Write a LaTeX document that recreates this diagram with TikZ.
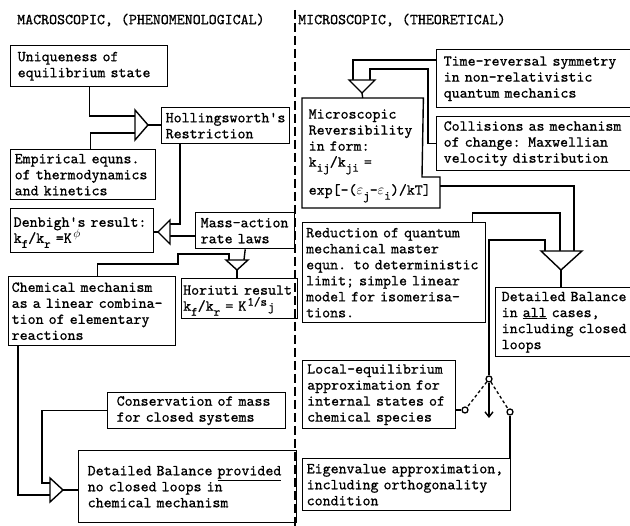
\documentclass[tikz,border=0pt]{standalone}
\usepackage{fontspec}
\setmonofont{lmmono10-regular.otf}[FakeBold=0.8]
\usetikzlibrary{arrows.meta}
\newcommand{\sbx}[1]{\raisebox{-5pt}[0pt][0pt]{\fontsize{12.5pt}{12.5pt}\selectfont #1}}
\newcommand{\spx}[1]{\raisebox{5pt}[0pt][0pt]{\fontsize{12.5pt}{12.5pt}\selectfont #1}}
\begin{document}
\begin{tikzpicture}[x=1pt,y=-1pt,
  txt/.style={font=\ttfamily\fontsize{15.2pt}{16pt}\selectfont, inner sep=0pt},
  box/.style={draw, line width=1.4pt, anchor=north west, align=left, inner ysep=2pt, font=\ttfamily\fontsize{15.2pt}{16pt}\selectfont},
  conn/.style={line width=1.4pt},
  gate/.style={line width=1.4pt, fill=white, line join=miter},
  contact/.style={circle, draw, line width=1.3pt, fill=white, inner sep=0pt, minimum size=6pt},
  swdash/.style={line width=1.3pt, dash pattern=on 3pt off 2.5pt},
]
\clip (0,0) rectangle (630,526);
\fill[white] (0,0) rectangle (630,526);

% titles and divider
\node[txt, anchor=west] (tmac) at (17,20) {MACROSCOPIC, (PHENOMENOLOGICAL)};
\node[txt, anchor=west] (tmic) at (298,20) {MICROSCOPIC, (THEORETICAL)};
\draw[line width=1.3pt, dash pattern=on 9pt off 4pt] (295,10) -- (295,526);

% left column boxes
\node[box, minimum width=157pt, minimum height=41pt, text width=143pt, inner xsep=7pt] (uniq) at (10,45) {Uniqueness of\\equilibrium state};
\node[box, minimum width=128pt, minimum height=36pt, text width=120pt, inner xsep=4pt] (holl) at (161,107) {Hollingsworth's\\Restriction};
\node[box, minimum width=145pt, minimum height=50pt, text width=137pt, inner xsep=4pt] (emp) at (10,149) {Empirical equns.\\of thermodynamics\\and kinetics};
\node[box, minimum width=143pt, minimum height=44pt, text width=137pt, inner xsep=3pt] (denb) at (10,208) {Denbigh's result:\\k\sbx{f}/k\sbx{r} =K\kern1.5pt\spx{$\phi$}};
\node[box, minimum width=99pt, minimum height=36pt, text width=89pt, inner xsep=5pt] (mass) at (195,212) {Mass-action\\rate laws};
\node[box, minimum width=167pt, minimum height=69pt, text width=161pt, inner xsep=3pt] (chem) at (8,276) {Chemical mechanism\\as a linear combina-\\tion of elementary\\reactions};
\node[box, minimum width=116pt, minimum height=40pt, text width=113pt, inner xsep=1.5pt] (hori) at (181,278) {Horiuti result\\k\sbx{f}/k\sbx{r} = K\kern1pt\spx{1/s\kern1pt\sbx{j}}};
\node[box, minimum width=178pt, minimum height=36pt, text width=160pt, inner xsep=9pt] (cons) at (107,392) {Conservation of mass\\for closed systems};
\node[box, minimum width=218pt, minimum height=72pt, text width=200pt, inner xsep=9pt] (dbp) at (78,450) {Detailed Balance \underline{provided}\\no closed loops in\\chemical mechanism};

% right column boxes
\node[box, minimum width=204pt, minimum height=58pt, text width=190pt, inner xsep=7pt] (time) at (436,49) {Time-reversal symmetry\\in non-relativistic\\quantum mechanics};
\node[box, minimum width=204pt, minimum height=54pt, text width=190pt, inner xsep=7pt] (coll) at (436,116) {Collisions as mechanism\\of change: Maxwellian\\velocity distribution};
\node[box, draw=none, minimum width=120pt, minimum height=110pt, text width=108pt, inner xsep=6pt] (micro) at (302,98) {Microscopic\\Reversibility\\in form:\\k\sbx{ij}/k\sbx{ji} =\\[12pt]\mbox{exp[-($\varepsilon$\sbx{j}-$\varepsilon$\sbx{i})/kT]}};
\coordinate (mA) at (422,177);
\coordinate (mB) at (440,177);
\coordinate (mC) at (440,208);
\coordinate (mD) at (302,208);
\coordinate (mR) at (440,186);
\draw[conn, line join=miter] (micro.north west) -- (micro.north east) -- (mA) -- (mB) -- (mC) -- (mD) -- cycle;
\node[box, minimum width=183pt, minimum height=100pt, text width=176pt, inner xsep=3.5pt] (red) at (302,222) {Reduction of quantum\\mechanical master\\equn. to deterministic\\limit; simple linear\\model for isomerisa-\\tions.};
\node[box, minimum width=145pt, minimum height=69pt, text width=133pt, inner xsep=6pt] (dball) at (495,287) {Detailed Balance\\in \underline{all} cases,\\including closed\\loops};
\node[box, minimum width=153pt, minimum height=68pt, text width=144pt, inner xsep=4.5pt] (loc) at (302,360) {Local-equilibrium\\approximation for\\internal states of\\chemical species};
\node[box, minimum width=208pt, minimum height=52pt, text width=200pt, inner xsep=4pt] (eig) at (302,458) {Eigenvalue approximation,\\including orthogonality\\condition};

% gate coordinates
\coordinate (t1a) at (135,110); \coordinate (t1b) at (135,140); \coordinate (t1p) at (148,125);
\coordinate (t1i1) at (135,116); \coordinate (t1i2) at (135,133);
\coordinate (t2a) at (170,220); \coordinate (t2b) at (170,244); \coordinate (t2p) at (158,232);
\coordinate (t2i1) at (170,224); \coordinate (t2i2) at (170,236);
\coordinate (t3a) at (226,260); \coordinate (t3b) at (248,260); \coordinate (t3p) at (237,270);
\coordinate (t3i1) at (229,260); \coordinate (t3i2) at (244,260);
\coordinate (t4a) at (50,478); \coordinate (t4b) at (50,502); \coordinate (t4p) at (63,490);
\coordinate (t4i1) at (50,483); \coordinate (t4i2) at (50,495);
\coordinate (t5a) at (349,80); \coordinate (t5b) at (375,80); \coordinate (t5p) at (362,93);
\coordinate (t5i1) at (353,80); \coordinate (t5i2) at (370,80);
\coordinate (t6a) at (541,251); \coordinate (t6b) at (582,251); \coordinate (t6p) at (561,270);
\coordinate (t6i1) at (545,251); \coordinate (t6i2) at (560,251); \coordinate (t6i3) at (574,251);

% waypoints
\coordinate (c1) at (178,264); \coordinate (c2) at (178,254);
\coordinate (c3) at (42,483);
\coordinate (c5) at (428,69);
\coordinate (c6) at (560,213);
\coordinate (c7) at (545,240);

% switch
\node[contact] (piv) at (489,379) {};
\node[contact] (cl) at (465,410) {};
\node[contact] (cr) at (510,412) {};
\coordinate (arrE) at (489,418);

% connectors left
\draw[conn] (uniq.south) |- (t1i1);
\draw[conn] ([xshift=7.5pt]emp.north) |- (t1i2);
\draw[conn] (t1p) -- (t1p -| holl.west);
\draw[conn] ([xshift=19pt]holl.south west) |- (t2i1);
\draw[conn] (mass.west |- t2i2) -- (t2i2);
\draw[conn] (t2p) -- (t2p -| denb.east);
\draw[conn] (mass.south) -- (t3i2);
\draw[conn] ([xshift=5.5pt]chem.north) |- (c1) -- (c2) -| (t3i1);
\draw[conn] (t3p) -- (t3p |- hori.north);
\draw[conn] ([xshift=10pt]chem.south west) |- (t4i2);
\draw[conn] (cons.west) -| (c3) -- (t4i1);
\draw[conn] (t4p) -- (t4p -| dbp.west);

% connectors right
\draw[conn] ([yshift=-11pt]time.north west) -| (t5i1);
\draw[conn] (coll.west) -| (c5) -| (t5i2);
\draw[conn] (t5p) -- (micro.north);
\draw[conn] (mR) -| (t6i3);
\draw[conn] ([xshift=-14pt]red.north east) |- (c6) -- (t6i2);
\draw[conn] (piv.north) |- (c7) -- (t6i1);
\draw[conn] (t6p) -- (t6p |- dball.north);
\draw[conn] (cl -| loc.east) -- (cl);
\draw[swdash] (piv) -- (cl);
\draw[swdash] (piv) -- (cr);
\draw[conn, -{Straight Barb[length=5pt,width=8pt]}] (piv) -- (arrE);
\draw[conn] (cr) -- (cr |- eig.north);

% gates
\draw[gate] (t1a) -- (t1p) -- (t1b) -- cycle;
\draw[gate] (t2a) -- (t2p) -- (t2b) -- cycle;
\draw[gate] (t3a) -- (t3p) -- (t3b) -- cycle;
\draw[gate] (t4a) -- (t4p) -- (t4b) -- cycle;
\draw[gate] (t5a) -- (t5p) -- (t5b) -- cycle;
\draw[gate] (t6a) -- (t6p) -- (t6b) -- cycle;
\end{tikzpicture}
\end{document}
